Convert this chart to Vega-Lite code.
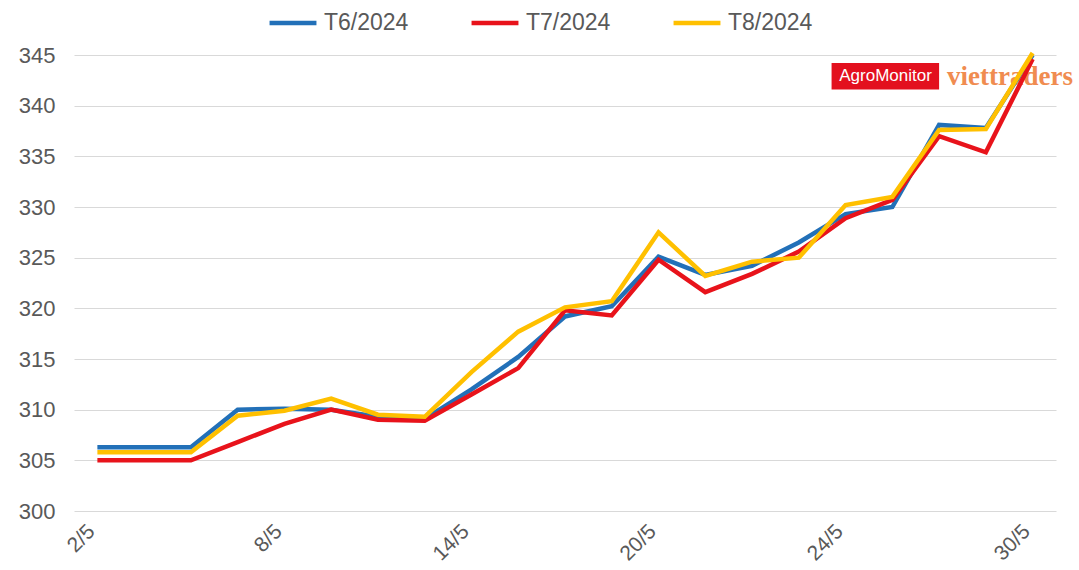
{
  "$schema": "https://vega.github.io/schema/vega-lite/v6.json",
  "width": 982,
  "height": 456,
  "autosize": {"type": "none"},
  "padding": {"left": 74, "top": 55, "right": 23, "bottom": 59},
  "background": "white",
  "config": {"view": {"stroke": null}, "font": "Liberation Sans"},
  "data": {"values": [
    {"date": "2/5", "series": "T6/2024", "value": 306.3},
    {"date": "3/5", "series": "T6/2024", "value": 306.3},
    {"date": "6/5", "series": "T6/2024", "value": 306.3},
    {"date": "7/5", "series": "T6/2024", "value": 310.0},
    {"date": "8/5", "series": "T6/2024", "value": 310.1},
    {"date": "9/5", "series": "T6/2024", "value": 310.0},
    {"date": "10/5", "series": "T6/2024", "value": 309.3},
    {"date": "13/5", "series": "T6/2024", "value": 309.1},
    {"date": "14/5", "series": "T6/2024", "value": 312.0},
    {"date": "15/5", "series": "T6/2024", "value": 315.2},
    {"date": "16/5", "series": "T6/2024", "value": 319.2},
    {"date": "17/5", "series": "T6/2024", "value": 320.2},
    {"date": "20/5", "series": "T6/2024", "value": 325.1},
    {"date": "21/5", "series": "T6/2024", "value": 323.3},
    {"date": "22/5", "series": "T6/2024", "value": 324.2},
    {"date": "23/5", "series": "T6/2024", "value": 326.5},
    {"date": "24/5", "series": "T6/2024", "value": 329.3},
    {"date": "27/5", "series": "T6/2024", "value": 330.0},
    {"date": "28/5", "series": "T6/2024", "value": 338.1},
    {"date": "29/5", "series": "T6/2024", "value": 337.8},
    {"date": "30/5", "series": "T6/2024", "value": 345.0},
    {"date": "2/5", "series": "T7/2024", "value": 305.0},
    {"date": "3/5", "series": "T7/2024", "value": 305.0},
    {"date": "6/5", "series": "T7/2024", "value": 305.0},
    {"date": "7/5", "series": "T7/2024", "value": 306.8},
    {"date": "8/5", "series": "T7/2024", "value": 308.6},
    {"date": "9/5", "series": "T7/2024", "value": 310.0},
    {"date": "10/5", "series": "T7/2024", "value": 309.0},
    {"date": "13/5", "series": "T7/2024", "value": 308.9},
    {"date": "14/5", "series": "T7/2024", "value": 311.5},
    {"date": "15/5", "series": "T7/2024", "value": 314.1},
    {"date": "16/5", "series": "T7/2024", "value": 319.8},
    {"date": "17/5", "series": "T7/2024", "value": 319.3},
    {"date": "20/5", "series": "T7/2024", "value": 324.8},
    {"date": "21/5", "series": "T7/2024", "value": 321.6},
    {"date": "22/5", "series": "T7/2024", "value": 323.4},
    {"date": "23/5", "series": "T7/2024", "value": 325.6},
    {"date": "24/5", "series": "T7/2024", "value": 328.9},
    {"date": "27/5", "series": "T7/2024", "value": 330.7},
    {"date": "28/5", "series": "T7/2024", "value": 337.0},
    {"date": "29/5", "series": "T7/2024", "value": 335.4},
    {"date": "30/5", "series": "T7/2024", "value": 344.6},
    {"date": "2/5", "series": "T8/2024", "value": 305.8},
    {"date": "3/5", "series": "T8/2024", "value": 305.8},
    {"date": "6/5", "series": "T8/2024", "value": 305.8},
    {"date": "7/5", "series": "T8/2024", "value": 309.4},
    {"date": "8/5", "series": "T8/2024", "value": 309.9},
    {"date": "9/5", "series": "T8/2024", "value": 311.1},
    {"date": "10/5", "series": "T8/2024", "value": 309.5},
    {"date": "13/5", "series": "T8/2024", "value": 309.3},
    {"date": "14/5", "series": "T8/2024", "value": 313.7},
    {"date": "15/5", "series": "T8/2024", "value": 317.7},
    {"date": "16/5", "series": "T8/2024", "value": 320.1},
    {"date": "17/5", "series": "T8/2024", "value": 320.7},
    {"date": "20/5", "series": "T8/2024", "value": 327.5},
    {"date": "21/5", "series": "T8/2024", "value": 323.2},
    {"date": "22/5", "series": "T8/2024", "value": 324.6},
    {"date": "23/5", "series": "T8/2024", "value": 325.0},
    {"date": "24/5", "series": "T8/2024", "value": 330.2},
    {"date": "27/5", "series": "T8/2024", "value": 331.0},
    {"date": "28/5", "series": "T8/2024", "value": 337.6},
    {"date": "29/5", "series": "T8/2024", "value": 337.7},
    {"date": "30/5", "series": "T8/2024", "value": 345.2}
  ]},
  "layer": [
    {
      "data": {"values": [{}]},
      "mark": {"type": "rect", "color": "#E3101E", "xOffset": -14, "x2Offset": 0},
      "encoding": {
        "x": {"datum": "24/5", "type": "ordinal"},
        "x2": {"datum": "28/5"},
        "y": {"datum": 344.2, "type": "quantitative"},
        "y2": {"datum": 341.6}
      }
    },
    {
      "data": {"values": [{"label": "AgroMonitor"}]},
      "mark": {"type": "text", "color": "white", "fontSize": 17, "align": "center", "baseline": "middle", "dx": 40},
      "encoding": {
        "x": {"datum": "24/5", "type": "ordinal"},
        "y": {"datum": 342.9, "type": "quantitative"},
        "text": {"field": "label"}
      }
    },
    {
      "data": {"values": [{"label": "viettraders"}]},
      "mark": {"type": "text", "color": "#F08C50", "font": "Liberation Serif", "fontWeight": "bold", "fontSize": 27, "align": "left", "baseline": "alphabetic", "dx": 8},
      "encoding": {
        "x": {"datum": "28/5", "type": "ordinal"},
        "y": {"datum": 342.0, "type": "quantitative"},
        "text": {"field": "label"}
      }
    },
    {
      "mark": {
        "type": "line",
        "strokeWidth": 4.5,
        "clip": false
      },
      "encoding": {
        "x": {
          "field": "date",
          "type": "ordinal",
          "sort": null,
          "scale": {
            "type": "point",
            "padding": 0.5,
            "domain": ["2/5", "3/5", "6/5", "7/5", "8/5", "9/5", "10/5", "13/5", "14/5", "15/5", "16/5", "17/5", "20/5", "21/5", "22/5", "23/5", "24/5", "27/5", "28/5", "29/5", "30/5"]
          },
          "axis": {
            "title": null,
            "values": ["2/5", "8/5", "14/5", "20/5", "24/5", "30/5"],
            "domain": false,
            "ticks": false,
            "grid": false,
            "labelAngle": -45,
            "labelFontSize": 21,
            "labelColor": "#595959",
            "labelPadding": 17,
            "labelOffset": -6
          }
        },
        "y": {
          "field": "value",
          "type": "quantitative",
          "scale": {"domain": [300, 345], "nice": false, "zero": false},
          "axis": {
            "title": null,
            "values": [300, 305, 310, 315, 320, 325, 330, 335, 340, 345],
            "domain": false,
            "ticks": false,
            "grid": true,
            "gridColor": "#D9D9D9",
            "gridWidth": 1,
            "labelFontSize": 22,
            "labelColor": "#595959",
            "labelPadding": 19
          }
        },
        "color": {
          "field": "series",
          "type": "nominal",
          "scale": {
            "domain": ["T6/2024", "T7/2024", "T8/2024"],
            "range": ["#2270B8", "#E8131B", "#FFC000"]
          },
          "legend": {
            "title": null,
            "orient": "none",
            "legendX": 193,
            "legendY": -58,
            "direction": "horizontal",
            "symbolType": "stroke",
            "symbolSize": 2200,
            "symbolStrokeWidth": 4.5,
            "labelFontSize": 23,
            "labelColor": "#595959",
            "labelOffset": 5,
            "columnPadding": 53,
            "padding": 0
          }
        }
      }
    }
  ]
}
